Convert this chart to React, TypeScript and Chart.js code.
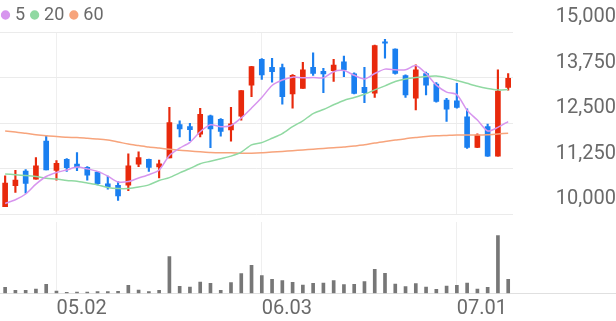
import { useEffect, useRef } from 'react';
import { Chart, registerables } from 'chart.js';

Chart.register(...registerables);

// ---- data ----
const dates = [
  '04.24', '04.25', '04.26', '04.29', '04.30', '05.02', '05.03', '05.07', '05.08', '05.09',
  '05.10', '05.13', '05.14', '05.16', '05.17', '05.20', '05.21', '05.22', '05.23', '05.24',
  '05.27', '05.28', '05.29', '05.30', '05.31', '06.03', '06.04', '06.05', '06.07', '06.10',
  '06.11', '06.12', '06.13', '06.14', '06.17', '06.18', '06.19', '06.20', '06.21', '06.24',
  '06.25', '06.26', '06.27', '06.28', '07.01', '07.02', '07.03', '07.04', '07.05', '07.08',
];
const xTickLabels = ['05.02', '06.03', '07.01'];
const yTickValues = [10000, 11250, 12500, 13750, 15000];

const opens = [
  10200, 10780, 11180, 10960, 12000, 11200, 11500, 11370, 11280, 11150,
  10830, 10790, 10790, 11370, 11500, 11290, 11540, 12460, 12400, 12190,
  12700, 12600, 12310, 12690, 13540, 14250, 14030, 14020, 13300, 13450,
  14030, 13920, 13940, 14180, 13850, 13480, 13320, 14730, 14530, 13800,
  13180, 13860, 13570, 13130, 13110, 12670, 11830, 12400, 11590, 13480,
];
const highs = [
  11050, 11200, 11220, 11550, 12160, 11470, 11520, 11690, 11300, 11170,
  11040, 10890, 11650, 11710, 11510, 11480, 12930, 12560, 12490, 12900,
  12720, 12620, 12930, 13390, 14060, 14270, 14280, 14120, 13830, 14170,
  14430, 14000, 14250, 14340, 13880, 14030, 14640, 14800, 14540, 13820,
  14100, 13900, 13610, 13180, 13590, 12890, 12200, 12470, 13960, 13860,
];
const lows = [
  10200, 10590, 10570, 10960, 11210, 10930, 11170, 11190, 10930, 10800,
  10680, 10370, 10640, 11300, 11170, 10990, 11540, 12120, 12015, 12120,
  11820, 12140, 12000, 12580, 13220, 13700, 13620, 13020, 12910, 13450,
  13810, 13330, 13640, 13770, 13300, 13060, 13200, 14280, 13840, 13200,
  12860, 13270, 13070, 12540, 12910, 11800, 11820, 11580, 11590, 13400,
];
const closes = [
  10850, 10930, 10840, 11320, 11210, 11390, 11270, 11270, 11070, 10830,
  10750, 10500, 11320, 11550, 11280, 11380, 12510, 12340, 12320, 12740,
  12340, 12270, 12480, 13390, 14050, 13820, 13910, 13220, 13810, 13960,
  13860, 13850, 14090, 13960, 13310, 13330, 14630, 14690, 13860, 13270,
  13960, 13540, 13090, 12880, 12930, 11830, 12170, 11590, 13380, 13730,
];
const ma5 = [
  10290, 10390, 10550, 10820, 11030, 11140, 11210, 11290, 11240, 11170,
  11040, 10880, 10890, 10990, 11080, 11210, 11610, 11810, 11970, 12260,
  12450, 12400, 12430, 12640, 12910, 13200, 13530, 13680, 13760, 13740,
  13750, 13740, 13910, 13940, 13810, 13710, 13860, 13980, 13960, 13960,
  14080, 13860, 13540, 13350, 13280, 12850, 12580, 12280, 12380, 12540,
];
const ma20 = [
  11100, 11080, 11060, 11030, 10980, 10960, 10920, 10900, 10850, 10800,
  10730, 10700, 10700, 10740, 10800, 10920, 11000, 11130, 11250, 11380,
  11450, 11520, 11590, 11700, 11900, 11960, 12080, 12210, 12400, 12560,
  12760, 12870, 13000, 13120, 13200, 13290, 13410, 13520, 13640, 13710,
  13750, 13780, 13790, 13740, 13670, 13590, 13510, 13450, 13410, 13420,
];
const ma60 = [
  12280, 12250, 12220, 12180, 12150, 12130, 12110, 12100, 12080, 12060,
  12030, 11980, 11920, 11880, 11840, 11810, 11780, 11750, 11730, 11710,
  11690, 11680, 11680, 11670, 11670, 11680, 11700, 11720, 11740, 11760,
  11780, 11800, 11820, 11840, 11870, 11900, 11950, 11990, 12030, 12070,
  12100, 12130, 12150, 12160, 12170, 12170, 12170, 12180, 12200, 12220,
];
const volumes = [
  90000, 45000, 45000, 65000, 135000, 35000, 15000, 20000, 20000, 25000,
  25000, 30000, 120000, 50000, 25000, 45000, 550000, 105000, 95000, 170000,
  150000, 45000, 160000, 295000, 420000, 265000, 210000, 190000, 165000, 125000,
  150000, 155000, 190000, 130000, 135000, 175000, 360000, 300000, 140000, 100000,
  145000, 95000, 60000, 110000, 120000, 155000, 65000, 90000, 865000, 210000,
];
const maLabels = ['5', '20', '60'];

// ---- styles ----
const RED = '#e8290c';
const BLUE = '#1a7ff0';
const PURPLE = '#d795ee';
const GREEN = '#90d9a2';
const ORANGE = '#f7a47c';
const TEXT = '#6a6a6a';
const GRID = '#efefef';
const FONT = 'Roboto';

const filterXTicks = (scale: any) => {
  const labels = scale.getLabels();
  scale.ticks = scale.ticks.filter((t: any) => xTickLabels.includes(labels[t.value]));
};

export default function App() {
  const priceRef = useRef<HTMLCanvasElement | null>(null);
  const volRef = useRef<HTMLCanvasElement | null>(null);

  useEffect(() => {
    const isUp = (i: number) => closes[i] >= opens[i];
    const candleColor = (ctx: any) => (isUp(ctx.dataIndex) ? RED : BLUE);

    const legendShift = {
      id: 'legendShift',
      afterLayout(chart: any) {
        if (chart.legend) {
          chart.legend.left -= 4;
          chart.legend.top -= 3;
        }
      },
    };

    const price = new Chart(priceRef.current as HTMLCanvasElement, {
      type: 'bar',
      data: {
        labels: dates,
        datasets: [
          { type: 'line', label: maLabels[0], data: ma5, borderColor: PURPLE, backgroundColor: PURPLE, borderWidth: 1.5, pointRadius: 0, tension: 0.25, order: 0 } as any,
          { type: 'line', label: maLabels[1], data: ma20, borderColor: GREEN, backgroundColor: GREEN, borderWidth: 1.5, pointRadius: 0, tension: 0.25, order: 0 } as any,
          { type: 'line', label: maLabels[2], data: ma60, borderColor: ORANGE, backgroundColor: ORANGE, borderWidth: 1.5, pointRadius: 0, tension: 0.25, order: 0 } as any,
          {
            type: 'bar', label: 'body',
            data: opens.map((o, i) => [o, closes[i]]),
            backgroundColor: candleColor, barThickness: 5, grouped: false, order: 1,
          } as any,
          {
            type: 'bar', label: 'wick',
            data: lows.map((l, i) => [l, highs[i]]),
            backgroundColor: candleColor, barThickness: 1.5, grouped: false, order: 2,
          } as any,
        ],
      },
      options: {
        responsive: false,
        animation: false,
        devicePixelRatio: 1,
        events: [],
        layout: { padding: { top: 0, left: 0, right: 0, bottom: 6 } },
        plugins: {
          tooltip: { enabled: false },
          legend: {
            display: true,
            position: 'top',
            align: 'start',
            maxHeight: 32,
            labels: {
              usePointStyle: true,
              boxWidth: 1,
              boxHeight: 5.5,
              padding: 9,
              color: TEXT,
              font: { family: FONT, size: 18 },
              filter: (item: any) => maLabels.includes(item.text),
            },
          },
        },
        scales: {
          x: {
            offset: true,
            grid: { offset: false, color: GRID, drawTicks: false },
            border: { display: false },
            ticks: { display: false, autoSkip: false },
            afterBuildTicks: filterXTicks,
            afterFit: (s: any) => { s.height = 0; s.paddingLeft = 0; s.paddingRight = 0; },
          },
          y: {
            position: 'right',
            min: 10000,
            max: 15000,
            grid: { color: '#ebebeb', drawTicks: false },
            border: { display: false },
            afterBuildTicks: (s: any) => { s.ticks = yTickValues.map((v) => ({ value: v })); },
            ticks: {
              padding: 38,
              crossAlign: 'far',
              labelOffset: -15,
              color: TEXT,
              font: { family: FONT, size: 20 },
              callback: (v: any) => Number(v).toLocaleString('en-US'),
            },
            afterFit: (s: any) => { s.width = 102.7; s.paddingTop = 0; s.paddingBottom = 0; },
          },
        },
      } as any,
      plugins: [legendShift],
    });

    const vol = new Chart(volRef.current as HTMLCanvasElement, {
      type: 'bar',
      data: {
        labels: [...dates, ...Array(10).fill('')],
        datasets: [
          { label: 'volume', data: volumes, backgroundColor: '#777777', barThickness: 3 },
        ],
      },
      options: {
        responsive: false,
        animation: false,
        devicePixelRatio: 1,
        events: [],
        layout: { padding: { top: 2, left: 0, right: 0, bottom: 0 } },
        plugins: { legend: { display: false }, tooltip: { enabled: false } },
        scales: {
          x: {
            offset: true,
            grid: { offset: false, color: GRID, drawTicks: false },
            border: { display: true, color: '#e0e0e0', width: 1 },
            ticks: {
              autoSkip: false,
              maxRotation: 0,
              minRotation: 0,
              align: 'start',
              padding: 4,
              color: TEXT,
              font: { family: FONT, size: 20 },
            },
            afterBuildTicks: filterXTicks,
            afterFit: (s: any) => { s.height = 27.7; s.paddingLeft = 0; s.paddingRight = 0; },
          },
          y: { display: false, min: 0, max: 1070000 },
        },
      } as any,
    });

    return () => {
      price.destroy();
      vol.destroy();
    };
  }, []);

  return (
    <div style={{ position: 'fixed', left: 0, top: 0, width: 616, height: 321, background: '#fff' }}>
      <canvas ref={priceRef} width={616} height={220} style={{ position: 'absolute', left: 0, top: 0, display: 'block' }} />
      <canvas ref={volRef} width={616} height={101} style={{ position: 'absolute', left: 0, top: 220, display: 'block' }} />
    </div>
  );
}
